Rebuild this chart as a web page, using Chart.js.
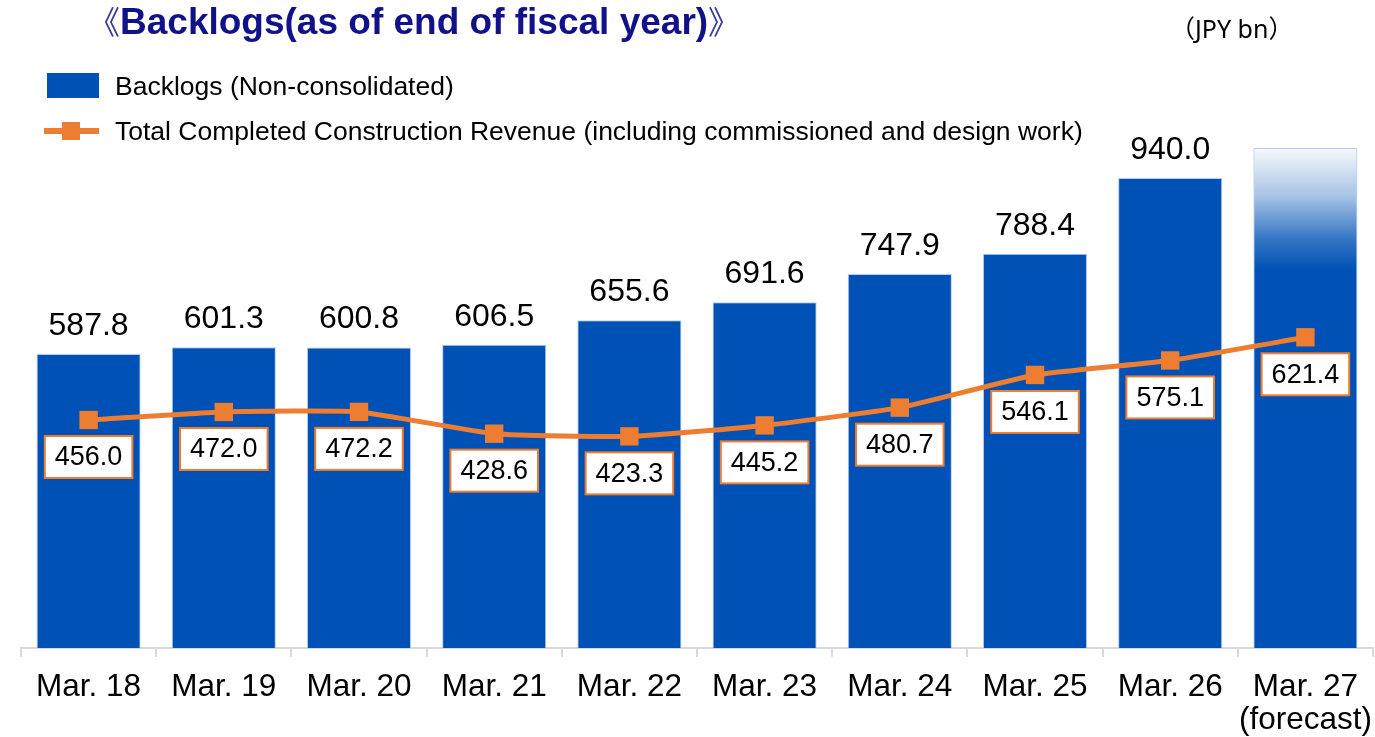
<!DOCTYPE html>
<html>
<head>
<meta charset="utf-8">
<script src="https://cdn.jsdelivr.net/npm/chart.js@4"></script>
<style>
  body { margin: 0; background: #fff; font-family: "Liberation Sans", Arial, sans-serif; }
  #wrap { position: relative; width: 1375px; height: 737px; overflow: hidden; }
  #title { position: absolute; left: 88px; top: -3px; font-size: 37px; font-weight: bold; color: #11118a; white-space: nowrap; }
  #title .br { font-family: "Noto Sans CJK JP", sans-serif; font-size: 32px; font-weight: normal; color: #3a3aa0; }
  #unit { position: absolute; left: 1170px; top: 9px; font-size: 25px; font-family: "Noto Sans", sans-serif; color: #000; }
  #unit .p { font-family: "Noto Sans CJK JP", sans-serif; }
  .leg { position: absolute; left: 115px; font-size: 26.5px; line-height: 30px; color: #000; white-space: nowrap; }
  #legBox { position: absolute; left: 47px; top: 73px; width: 52px; height: 25px; background: #0051b5; }
  #legLine { position: absolute; left: 44px; top: 128px; width: 55px; height: 6px; background: #ed7d31; }
  #legMark { position: absolute; left: 62px; top: 122px; width: 18px; height: 18px; background: #ed7d31; }
  canvas { position: absolute; left: 0; top: 0; }
</style>
</head>
<body>
<div id="wrap">
  <canvas id="chart" width="1375" height="737"></canvas>
  <div id="title"><span class="br">《</span>Backlogs(as of end of fiscal year)<span class="br">》</span></div>
  <div id="unit"><span class="p">（</span>JPY bn<span class="p">）</span></div>
  <div id="legBox"></div>
  <div class="leg" style="top:71px">Backlogs (Non-consolidated)</div>
  <div id="legLine"></div>
  <div id="legMark"></div>
  <div class="leg" style="top:116px">Total Completed Construction Revenue (including commissioned and design work)</div>
</div>
<script>
const categories = ['Mar. 18', 'Mar. 19', 'Mar. 20', 'Mar. 21', 'Mar. 22', 'Mar. 23', 'Mar. 24', 'Mar. 25', 'Mar. 26', ['Mar. 27', '(forecast)']];
const backlogs = [587.8, 601.3, 600.8, 606.5, 655.6, 691.6, 747.9, 788.4, 940.0, 1000];
const revenue = [456.0, 472.0, 472.2, 428.6, 423.3, 445.2, 480.7, 546.1, 575.1, 621.4];
const forecastIndex = 9;

const BLUE = '#0051b5';
const ORANGE = '#ed7d31';

// value labels above bars and boxed labels under the line points
const labelPlugin = {
  id: 'labels',
  afterDatasetsDraw(chart) {
    const ctx = chart.ctx;
    ctx.save();
    ctx.textAlign = 'center';
    ctx.textBaseline = 'middle';

    const bars = chart.getDatasetMeta(0).data;
    ctx.font = '32px "Liberation Sans", Arial, sans-serif';
    ctx.fillStyle = '#000';
    bars.forEach((bar, i) => {
      if (i === forecastIndex) return;
      ctx.fillText(backlogs[i].toFixed(1), bar.x, bar.y - 28);
    });

    const pts = chart.getDatasetMeta(1).data;
    ctx.font = '27px "Liberation Sans", Arial, sans-serif';
    pts.forEach((p, i) => {
      const txt = revenue[i].toFixed(1);
      const w = ctx.measureText(txt).width + 20;
      const h = 42;
      const top = p.y + 16;
      ctx.fillStyle = '#fff';
      ctx.fillRect(p.x - w / 2, top, w, h);
      ctx.strokeStyle = ORANGE;
      ctx.lineWidth = 2;
      ctx.strokeRect(p.x - w / 2, top, w, h);
      ctx.fillStyle = '#000';
      ctx.fillText(txt, p.x, top + h / 2 + 1);
    });
    ctx.restore();
  }
};

function barColor(context) {
  if (context.dataIndex !== forecastIndex) return BLUE;
  const chart = context.chart;
  if (!chart.chartArea) return BLUE;
  const y = chart.scales.y;
  const top = y.getPixelForValue(backlogs[forecastIndex]);
  const g = chart.ctx.createLinearGradient(0, top, 0, top + 122);
  g.addColorStop(0, 'rgba(0,81,181,0.03)');
  g.addColorStop(0.4, 'rgba(0,81,181,0.35)');
  g.addColorStop(0.75, 'rgba(0,81,181,0.8)');
  g.addColorStop(1, BLUE);
  return g;
}

new Chart(document.getElementById('chart'), {
  type: 'bar',
  data: {
    labels: categories,
    datasets: [
      {
        type: 'bar',
        label: 'Backlogs (Non-consolidated)',
        data: backlogs,
        backgroundColor: barColor,
        borderColor: 'rgba(175,198,235,0.9)',
        borderWidth: 1,
        categoryPercentage: 1,
        barPercentage: 0.77,
        order: 1
      },
      {
        type: 'line',
        label: 'Total Completed Construction Revenue (including commissioned and design work)',
        data: revenue,
        borderColor: ORANGE,
        backgroundColor: ORANGE,
        borderWidth: 5,
        pointStyle: 'rect',
        pointRadius: 13,
        pointBorderWidth: 0,
        tension: 0.15,
        order: 0
      }
    ]
  },
  options: {
    responsive: false,
    animation: false,
    layout: { autoPadding: false, padding: { left: 21, right: 2, top: 148, bottom: 0 } },
    plugins: {
      legend: { display: false },
      tooltip: { enabled: false },
      title: { display: false }
    },
    scales: {
      x: {
        grid: { offset: true, drawOnChartArea: false, drawTicks: true, tickLength: 9, color: '#d9d9d9', lineWidth: 2 },
        border: { display: true, color: '#d9d9d9', width: 2 },
        ticks: {
          color: '#000',
          padding: 14,
          maxRotation: 0,
          autoSkip: false,
          font: { family: '"Liberation Sans", Arial, sans-serif', size: 31.5, lineHeight: 1.05 }
        },
        afterFit(scale) {
          scale.height = 89;
          scale.paddingLeft = 0;
          scale.paddingRight = 0;
        }
      },
      y: { display: false, min: 0, max: 1000 }
    }
  },
  plugins: [labelPlugin]
});
</script>
</body>
</html>
